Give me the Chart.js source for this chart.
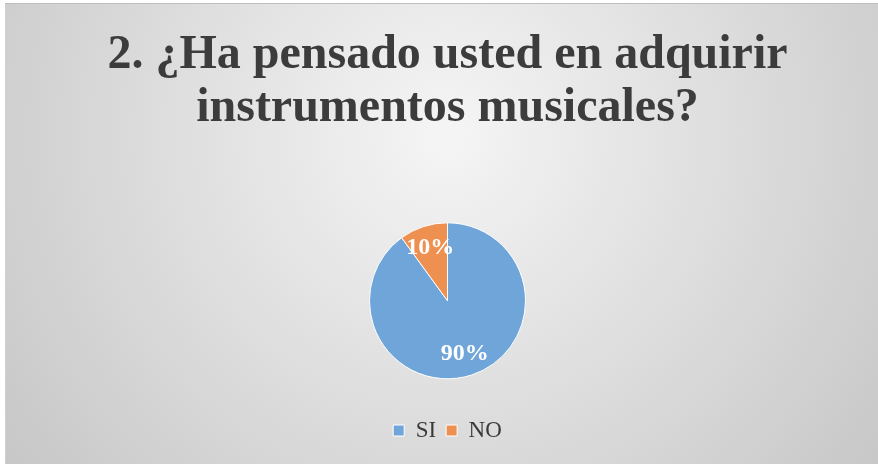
<!DOCTYPE html>
<html>
<head>
<meta charset="utf-8">
<script src="https://cdn.jsdelivr.net/npm/chart.js@4/dist/chart.umd.min.js"></script>
<style>
  html, body { margin: 0; padding: 0; background: #ffffff; }
  #wrap { position: absolute; left: 5px; top: 3px; width: 873px; height: 461px;
          border-top: 1px solid #bdbdbd; border-left: 1px solid #d0d0d0; }
  canvas { display: block; }
</style>
</head>
<body>
<div id="wrap"><canvas id="c" width="872" height="460"></canvas></div>
<script>
const titleLines = ['2. ¿Ha pensado usted en adquirir', 'instrumentos musicales?'];
const categories = ['SI', 'NO'];
const values = [90, 10];
const colors = ['#6fa5d8', '#ee904f'];

const bgPlugin = {
  id: 'bg',
  beforeDraw(chart) {
    const ctx = chart.ctx;
    const w = chart.width, h = chart.height;
    ctx.save();
    const g = ctx.createRadialGradient(440, 130, 0, 440, 130, 560);
    g.addColorStop(0, '#f5f5f5');
    g.addColorStop(1, '#c6c6c6');
    ctx.fillStyle = g;
    ctx.fillRect(0, 0, w, h);
    ctx.restore();
  }
};

const labelPlugin = {
  id: 'pctLabels',
  afterDatasetsDraw(chart) {
    const ctx = chart.ctx;
    const meta = chart.getDatasetMeta(0);
    const data = chart.data.datasets[0].data;
    const total = data.reduce((a, b) => a + b, 0);
    ctx.save();
    ctx.fillStyle = '#ffffff';
    ctx.font = 'bold 24px "Liberation Serif", "Times New Roman", serif';
    ctx.textAlign = 'center';
    ctx.textBaseline = 'middle';
    meta.data.forEach((arc, i) => {
      const p = arc.getProps(['x', 'y', 'startAngle', 'endAngle', 'outerRadius'], true);
      const mid = (p.startAngle + p.endAngle) / 2;
      const r = p.outerRadius * 0.72;
      const x = p.x + Math.cos(mid) * r;
      const y = p.y + Math.sin(mid) * r;
      ctx.fillText(Math.round(data[i] / total * 100) + '%', x, y);
    });
    ctx.restore();
  }
};

new Chart(document.getElementById('c'), {
  type: 'pie',
  data: {
    labels: categories,
    datasets: [{
      data: values,
      backgroundColor: colors,
      borderColor: '#ffffff',
      borderWidth: 1,
      radius: 78
    }]
  },
  options: {
    responsive: false,
    animation: false,
    layout: { padding: { left: 11, right: 0, top: 0, bottom: 12 } },
    plugins: {
      title: {
        display: true,
        text: titleLines,
        color: '#3c3c3c',
        font: { family: '"Liberation Serif", "Times New Roman", serif', size: 48, weight: 'bold', lineHeight: 1.1 },
        padding: { top: 25, bottom: 58 }
      },
      legend: {
        display: true,
        position: 'bottom',
        labels: {
          color: '#3a3a3a',
          font: { family: '"Liberation Serif", "Times New Roman", serif', size: 23 },
          boxWidth: 11,
          boxHeight: 11,
          padding: 10
        }
      },
      tooltip: { enabled: false }
    }
  },
  plugins: [bgPlugin, labelPlugin]
});
</script>
</body>
</html>
